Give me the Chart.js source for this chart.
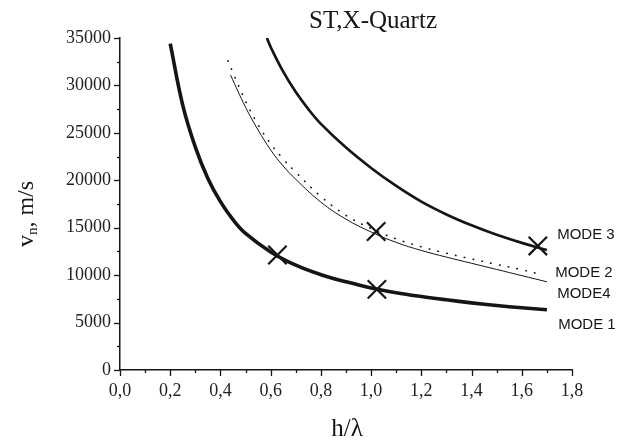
<!DOCTYPE html>
<html><head><meta charset="utf-8">
<script src="https://cdn.jsdelivr.net/npm/chart.js@4.4.1/dist/chart.umd.min.js"></script>
<style>html,body{margin:0;padding:0;background:#fff}#wrap{width:635px;height:440px}</style>
</head><body><div id="wrap"><canvas id="c" width="635" height="440"></canvas></div>
<script>
// ---- data ----
const chartTitle = 'ST,X-Quartz';
const xTitle = 'h/λ';
const mode1X = [0.2, 0.25, 0.3, 0.35, 0.4, 0.45, 0.5, 0.6, 0.7, 0.8, 0.9, 1.0, 1.1, 1.2, 1.3, 1.4, 1.5, 1.6, 1.7];
const mode1V = [34400, 27900, 23500, 20200, 17750, 15850, 14400, 12450, 11050, 10050, 9300, 8650, 8150, 7750, 7400, 7080, 6800, 6560, 6350];
const mode3X = [0.585, 0.6, 0.65, 0.7, 0.75, 0.8, 0.9, 1.0, 1.1, 1.2, 1.3, 1.4, 1.5, 1.6, 1.7];
const mode3V = [35000, 34050, 31450, 29300, 27500, 25950, 23450, 21300, 19400, 17750, 16400, 15250, 14250, 13400, 12650];
const mode2X = [0.43, 0.45, 0.5, 0.55, 0.6, 0.65, 0.7, 0.8, 0.9, 1.0, 1.1, 1.2, 1.3, 1.4, 1.5, 1.6, 1.68];
const mode2V = [32600, 31350, 28350, 25850, 23850, 22250, 20850, 18300, 16300, 14920, 13820, 12990, 12310, 11710, 11130, 10570, 10050];
const mode4X = [0.44, 0.5, 0.55, 0.6, 0.65, 0.7, 0.8, 0.9, 1.0, 1.1, 1.2, 1.3, 1.4, 1.5, 1.6, 1.7];
const mode4V = [31100, 27700, 25300, 23200, 21500, 20100, 17700, 15900, 14550, 13450, 12600, 11900, 11250, 10600, 9950, 9300];
const markX = [0.627, 1.023, 1.02, 1.664];
const markV = [12120, 8500, 14600, 13080];
const modeNames = ['MODE 3', 'MODE 2', 'MODE4', 'MODE 1'];
const modeLabelX = [1.741, 1.733, 1.741, 1.745];
const modeLabelV = [14200, 10280, 8050, 4740];

const pts = (xs, vs) => xs.map((x, i) => ({x: x, y: vs[i]}));
const SERIF = '"Liberation Serif", "Times New Roman", serif';
const SANS = '"Liberation Sans", Arial, sans-serif';
const INK = '#151515';

const decor = {
  id: 'decor',
  afterDraw(chart) {
    const ctx = chart.ctx, xs = chart.scales.x, ys = chart.scales.y;
    const ca = chart.chartArea;
    ctx.save();
    ctx.strokeStyle = INK; ctx.lineWidth = 1.3;
    for (let i = 0; i <= 18; i++) {
      const px = Math.round(xs.getPixelForValue(i / 10)) + 0.5;
      const len = i % 2 === 0 ? 6 : 3;
      ctx.beginPath(); ctx.moveTo(px, ca.bottom); ctx.lineTo(px, ca.bottom + len); ctx.stroke();
    }
    for (let i = 0; i <= 14; i++) {
      const py = Math.round(ys.getPixelForValue(i * 2500)) + 0.5;
      const len = i % 2 === 0 ? 6 : 3;
      ctx.beginPath(); ctx.moveTo(ca.left, py); ctx.lineTo(ca.left - len, py); ctx.stroke();
    }
    ctx.fillStyle = INK;
    ctx.font = '15px ' + SANS;
    ctx.textAlign = 'left'; ctx.textBaseline = 'middle';
    modeNames.forEach((n, i) => {
      ctx.fillText(n, xs.getPixelForValue(modeLabelX[i]), ys.getPixelForValue(modeLabelV[i]));
    });
    ctx.font = '25px ' + SERIF;
    ctx.textAlign = 'center'; ctx.textBaseline = 'alphabetic';
    ctx.fillText(chartTitle, 373, 28);
    ctx.fillText(xTitle, 347, 436);
    ctx.translate(33, 214);
    ctx.rotate(-Math.PI / 2);
    ctx.textAlign = 'left';
    const big = '24px ' + SERIF, small = '15px ' + SERIF;
    ctx.font = big; const wv = ctx.measureText('v').width;
    ctx.font = small; const wn = ctx.measureText('n').width;
    ctx.font = big; const wr = ctx.measureText(', m/s').width;
    let x0 = -(wv + wn + wr) / 2;
    ctx.font = big; ctx.fillText('v', x0, 0); x0 += wv;
    ctx.font = small; ctx.fillText('n', x0, 4); x0 += wn;
    ctx.font = big; ctx.fillText(', m/s', x0, 0);
    ctx.restore();
  }
};

const lineDs = (data, w, dash) => ({
  data: data, borderColor: INK, backgroundColor: INK, borderWidth: w,
  borderDash: dash || [], pointRadius: 0, fill: false, tension: 0.4,
  borderCapStyle: dash ? 'round' : 'butt'
});

new Chart(document.getElementById('c').getContext('2d'), {
  type: 'line',
  data: {
    datasets: [
      lineDs(pts(mode1X, mode1V), 3.6),
      lineDs(pts(mode3X, mode3V), 2.7),
      lineDs(pts(mode4X, mode4V), 1),
      lineDs(pts(mode2X, mode2V), 1.6, [0.5, 8.5]),
      {data: pts(markX, markV), showLine: false, pointStyle: 'crossRot', pointRadius: 13,
       borderColor: INK, borderWidth: 2.2, backgroundColor: INK}
    ]
  },
  options: {
    responsive: false, animation: false,
    layout: {padding: {top: 38, right: 63, left: 0, bottom: 0}},
    plugins: {legend: {display: false}, tooltip: {enabled: false}, title: {display: false}},
    scales: {
      x: {
        type: 'linear', min: 0, max: 1.8,
        grid: {display: false, drawTicks: false},
        border: {display: true, color: INK, width: 1.5},
        ticks: {stepSize: 0.2, padding: 10, color: '#222', autoSkip: false, maxRotation: 0,
                font: {family: SERIF, size: 18},
                callback: v => v.toFixed(1).replace('.', ',')},
        afterFit: s => { s.height = 70; }
      },
      y: {
        type: 'linear', min: 0, max: 35000,
        grid: {display: false, drawTicks: false},
        border: {display: true, color: INK, width: 1.5},
        ticks: {stepSize: 5000, padding: 9, color: '#222', font: {family: SERIF, size: 18},
                callback: v => String(v)},
        afterFit: s => { s.width = 120; }
      }
    }
  },
  plugins: [decor]
});
</script>
</body></html>
